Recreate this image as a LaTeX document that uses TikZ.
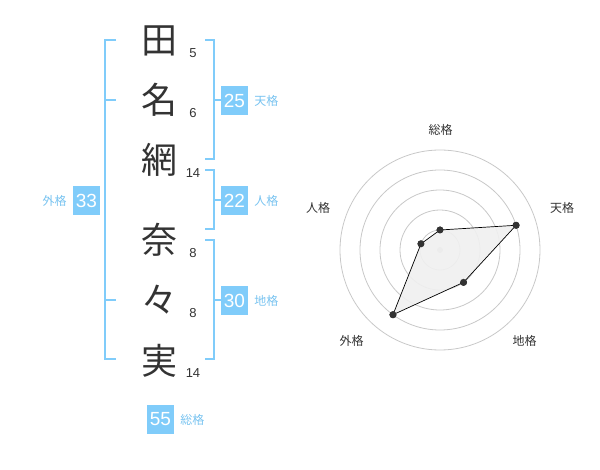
\documentclass[tikz,border=0pt]{standalone}
\usepackage{fontspec}
\setmainfont{Liberation Sans}
\newfontfamily\jp{Noto Sans CJK JP}
\definecolor{brk}{RGB}{128,204,250}
\definecolor{lbl}{RGB}{120,195,240}
\definecolor{txt}{RGB}{51,51,51}
\definecolor{gridc}{RGB}{200,200,200}
\tikzset{
  kanji/.style={inner sep=0pt, text=txt, font=\jp\fontsize{36}{36}\selectfont},
  strokes/.style={inner sep=0pt, text=txt, font=\fontsize{13}{13}\selectfont},
  brline/.style={draw=brk, line width=2pt},
  numbox/.style={fill=brk, text=white, minimum width=27pt, minimum height=29pt, inner sep=0pt, font=\fontsize{19}{19}\selectfont},
  kaku/.style={inner sep=0pt, text=lbl, font=\jp\fontsize{12}{12}\selectfont},
  rlabel/.style={inner sep=0pt, text=txt, font=\jp\fontsize{12}{12}\selectfont},
  ring/.style={draw=gridc, line width=0.8pt},
  dot/.style={circle, fill=txt, inner sep=0pt, minimum size=7pt},
  poly/.style={draw=black, line width=0.7pt, fill=black!6, fill opacity=0.9},
}
\begin{document}
\begin{tikzpicture}[x=1pt,y=-1pt]
\useasboundingbox (0,0) rectangle (600,470);
% characters
\node[kanji] (c1) at (159,41) {田};
\node[kanji] (c2) at (159,100) {名};
\node[kanji] (c3) at (159,160) {網};
\node[kanji] (c4) at (159,240) {奈};
\node[kanji] (c5) at (159,300) {々};
\node[kanji] (c6) at (159,361) {実};
% stroke counts
\node[strokes] (s1) at (193,53) {5};
\node[strokes] (s2) at (193,113) {6};
\node[strokes] (s3) at (193,173) {14};
\node[strokes] (s4) at (193,253) {8};
\node[strokes] (s5) at (193,313) {8};
\node[strokes] (s6) at (193,373) {14};
% left bracket (gaikaku)
\draw[brline] (116,40) -- (105,40) -- (105,359) -- (116,359);
\draw[brline] (105,100) -- (116,100);
\draw[brline] (105,300) -- (116,300);
% right brackets
\draw[brline] (205,40) -- (214,40) -- (214,159) -- (205,159);
\draw[brline] (214,100) -- (221,100);
\draw[brline] (205,170) -- (214,170) -- (214,229) -- (205,229);
\draw[brline] (214,200) -- (221,200);
\draw[brline] (205,240) -- (214,240) -- (214,359) -- (205,359);
\draw[brline] (214,300) -- (221,300);
% boxes
\node[numbox] (b25) at (234.5,100.5) {25};
\node[kaku, anchor=west] (k25) at ([xshift=6pt]b25.east) {天格};
\node[numbox] (b22) at (234.5,200.5) {22};
\node[kaku, anchor=west] (k22) at ([xshift=6pt]b22.east) {人格};
\node[numbox] (b30) at (234.5,300.5) {30};
\node[kaku, anchor=west] (k30) at ([xshift=6pt]b30.east) {地格};
\node[numbox] (b33) at (86.5,200.5) {33};
\node[kaku, anchor=east] (k33) at ([xshift=-6pt]b33.west) {外格};
\node[numbox] (b55) at (160.5,419.5) {55};
\node[kaku, anchor=west] (k55) at ([xshift=6pt]b55.east) {総格};
% radar chart
\begin{scope}[shift={(440,250)}, y=1pt]
  \foreach \r in {20,40,60,80,100} \draw[ring] (0,0) circle[radius=\r];
  \node[circle, fill=gridc, inner sep=0pt, minimum size=6pt] (ctr) at (0,0) {};
  \node[dot] (p1) at (90:20) {};
  \node[dot] (p2) at (18:80) {};
  \node[dot] (p3) at (-54:40) {};
  \node[dot] (p4) at (234:80) {};
  \node[dot] (p5) at (162:20) {};
  \draw[poly] (p1.center) -- (p2.center) -- (p3.center) -- (p4.center) -- (p5.center) -- cycle;
  \foreach \p in {p1,p2,p3,p4,p5} \node[dot] at (\p) {};
  \node[rlabel] (l1) at (0.5,120) {総格};
  \node[rlabel] (l2) at (122,42) {天格};
  \node[rlabel] (l3) at (84.5,-91) {地格};
  \node[rlabel] (l4) at (-88.5,-91) {外格};
  \node[rlabel] (l5) at (-122,42) {人格};
\end{scope}
\end{tikzpicture}
\end{document}
